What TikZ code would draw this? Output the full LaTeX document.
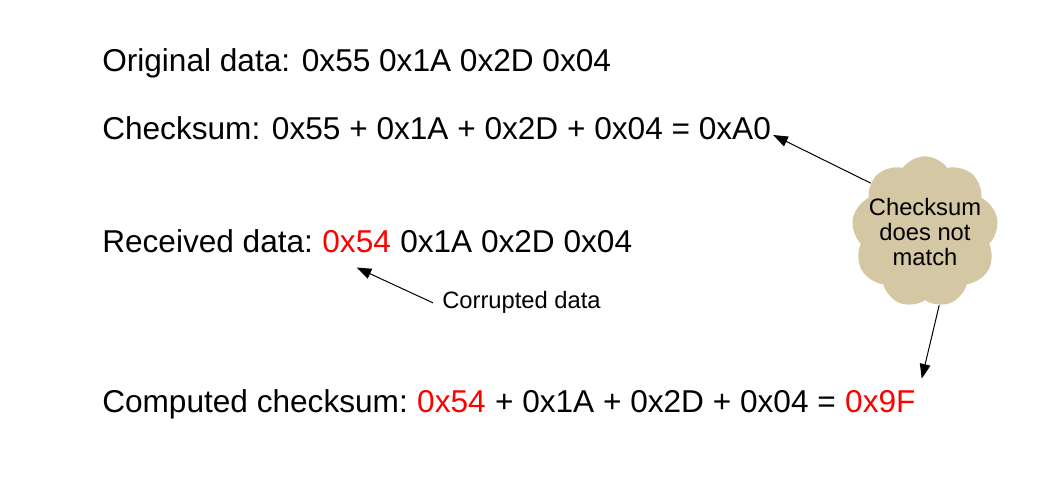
\documentclass[tikz,border=0pt]{standalone}
\usepackage{fontspec}
\setmainfont{Liberation Sans}
\usetikzlibrary{arrows.meta,positioning,shapes.symbols}
\definecolor{cloudtan}{RGB}{211,199,164}

\begin{document}
\begin{tikzpicture}[x=0.75pt,y=-0.75pt,
  every node/.style={inner sep=0pt},
  big/.style={font=\fontsize{23.7}{28}\selectfont},
  small/.style={font=\fontsize{17.8}{18.75}\selectfont},
  bad/.style={big,text=red},
  node distance=6.6pt]
\useasboundingbox (0,0) rectangle (1053,498);
\node[big,anchor=base west] (orig) at (102,72) {Original data: 0x55 0x1A 0x2D 0x04};
\node[big,anchor=base west] (chk) at (102,140) {Checksum: 0x55 + 0x1A + 0x2D + 0x04 = 0xA0};
\node[big,anchor=base west] (recv) at (102,253) {Received data:};
\node[bad,base right=of recv] (recvbad) {0x54};
\node[big,base right=of recvbad] (recvrest) {0x1A 0x2D 0x04};
\node[big,anchor=base west] (comp) at (102,413) {Computed checksum:};
\node[bad,base right=of comp] (compbad) {0x54};
\node[big,base right=of compbad] (comprest) {+ 0x1A + 0x2D + 0x04 =};
\node[bad,base right=of comprest] (compsum) {0x9F};
\node[small,anchor=base west] (corr) at (442,309) {Corrupted data};
% the cloud, text set on top of it
\node[cloud,cloud puffs=9,cloud puff arc=110,cloud ignores aspect,fill=cloudtan,
  minimum width=110pt,minimum height=113.5pt] (cloud) at (925,232) {};
\node[small,align=center] (cloudtxt) at (cloud.center) {Checksum\\does not\\match};
\path[-{Triangle[length=11pt,width=8pt]},line width=0.75pt]
([shift={(-9,0)}]corr.west) edge ([shift={(0,14)}]recvbad.south)
(cloud.138) edge ([shift={(2,-5)}]chk.base east)
(cloud.281) edge ([shift={(6,-12)}]compsum.north east);
\end{tikzpicture}
\end{document}
